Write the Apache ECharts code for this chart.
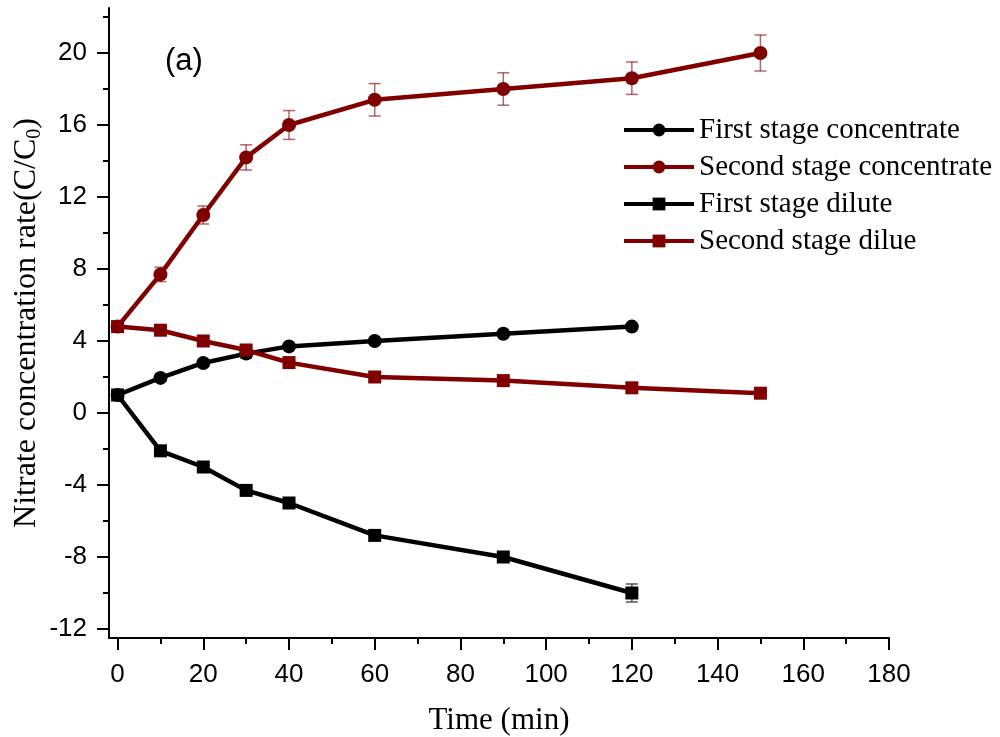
<!DOCTYPE html>
<html>
<head>
<meta charset="utf-8">
<script src="https://cdn.jsdelivr.net/npm/echarts@6/dist/echarts.min.js"></script>
<style>
  html, body { margin: 0; padding: 0; background: #fff; }
  #chart { width: 1000px; height: 737px; }
</style>
</head>
<body>
<div id="chart"></div>
<script>
// sampling times (min)
const timesFirst  = [0, 10, 20, 30, 40, 60, 90, 120];
const timesSecond = [0, 10, 20, 30, 40, 60, 90, 120, 150];

// C/C0 values
const firstConc     = [1.0, 1.95, 2.78, 3.3, 3.7, 4.0, 4.4, 4.8];
const firstConcErr  = [0, 0, 0, 0.25, 0, 0, 0, 0];
const secondConc    = [4.8, 7.7, 11.0, 14.2, 16.0, 17.4, 18.0, 18.6, 20.0];
const secondConcErr = [0, 0.4, 0.5, 0.7, 0.8, 0.9, 0.9, 0.9, 1.0];
const firstDil      = [1.0, -2.1, -3.0, -4.3, -5.0, -6.8, -8.0, -10.0];
const firstDilErr   = [0, 0, 0, 0, 0, 0, 0.2, 0.5];
const secondDil     = [4.8, 4.6, 4.0, 3.5, 2.8, 2.0, 1.8, 1.4, 1.1];
const secondDilErr  = [0, 0, 0, 0, 0, 0, 0, 0, 0];

// tick positions
const yMajor = [-12, -8, -4, 0, 4, 8, 12, 16, 20];
const yMinor = [-10, -6, -2, 2, 6, 10, 14, 18, 22];
const xMajor = [0, 20, 40, 60, 80, 100, 120, 140, 160, 180];
const xMinor = [10, 30, 50, 70, 90, 110, 130, 150, 170];

const RED = '#800000';
const BLACK = '#000000';

const pairs = (xs, ys) => xs.map((x, i) => [x, ys[i]]);
const errRows = (xs, ys, es) =>
  xs.map((x, i) => [x, ys[i] - es[i], ys[i] + es[i]]).filter((r, i) => es[i] > 0);

function errorBars(name, data, color) {
  return {
    name: name + ' err',
    type: 'custom',
    z: 1,
    silent: true,
    data: data,
    renderItem: (params, api) => {
      const lo = api.coord([api.value(0), api.value(1)]);
      const hi = api.coord([api.value(0), api.value(2)]);
      const w = 6;
      const style = { stroke: color, lineWidth: 1.5 };
      return {
        type: 'group',
        children: [
          { type: 'line', shape: { x1: lo[0], y1: lo[1], x2: hi[0], y2: hi[1] }, style },
          { type: 'line', shape: { x1: lo[0] - w, y1: lo[1], x2: lo[0] + w, y2: lo[1] }, style },
          { type: 'line', shape: { x1: hi[0] - w, y1: hi[1], x2: hi[0] + w, y2: hi[1] }, style }
        ]
      };
    }
  };
}

function lineSeries(name, data, color, symbol, size) {
  return {
    name: name,
    type: 'line',
    z: 3,
    data: data,
    symbol: symbol,
    symbolSize: size,
    showAllSymbol: true,
    lineStyle: { color: color, width: 4.5 },
    itemStyle: { color: color },
    emphasis: { disabled: true }
  };
}

const axisLineStyle = { show: true, onZero: false, lineStyle: { color: '#000', width: 2 } };
const numLabel = { fontFamily: 'Liberation Sans', fontSize: 26, color: '#000' };

const chart = echarts.init(document.getElementById('chart'));

chart.setOption({
  animation: false,
  backgroundColor: '#fff',
  grid: { left: 109, right: 111, top: 8, bottom: 99, outerBoundsMode: 'none' },
  graphic: [{
    type: 'text', left: 165, top: 46,
    style: { text: '(a)', fontFamily: 'Liberation Sans', fontSize: 31, fill: '#000' }
  }],
  legend: {
    orient: 'vertical',
    left: 617,
    top: 110,
    itemWidth: 70,
    itemHeight: 16,
    itemGap: 7,
    lineStyle: { width: 4 },
    textStyle: { fontFamily: 'Liberation Serif', fontSize: 29, color: '#000', lineHeight: 30 },
    data: ['First stage concentrate', 'Second stage concentrate', 'First stage dilute', 'Second stage dilue']
  },
  xAxis: [{
    type: 'value', min: -2, max: 180,
    name: 'Time (min)', nameLocation: 'middle', nameGap: 67, nameMoveOverlap: false,
    nameTextStyle: { fontFamily: 'Liberation Serif', fontSize: 31, color: '#000' },
    axisLine: axisLineStyle,
    axisTick: { show: true, length: 12, lineStyle: { color: '#000', width: 2 }, customValues: xMajor },
    axisLabel: Object.assign({ margin: 24, customValues: xMajor }, numLabel),
    splitLine: { show: false }
  }, {
    type: 'value', min: -2, max: 180, position: 'bottom',
    axisLine: { show: false, onZero: false },
    axisTick: { show: true, length: 6, lineStyle: { color: '#000', width: 2 }, customValues: xMinor },
    axisLabel: { show: false },
    splitLine: { show: false }
  }],
  yAxis: [{
    type: 'value', min: -12.5, max: 22.5,
    name: 'Nitrate concentration rate(C/C{sub|0})',
    nameLocation: 'middle', nameGap: 64, nameRotate: 90, nameMoveOverlap: false,
    nameTextStyle: {
      fontFamily: 'Liberation Serif', fontSize: 32, color: '#000',
      rich: { sub: { fontFamily: 'Liberation Serif', fontSize: 20, color: '#000', verticalAlign: 'bottom', padding: [16, 0, 0, 0] } }
    },
    axisLine: axisLineStyle,
    axisTick: { show: true, length: 12, lineStyle: { color: '#000', width: 2 }, customValues: yMajor },
    axisLabel: Object.assign({ margin: 22, customValues: yMajor }, numLabel),
    splitLine: { show: false }
  }, {
    type: 'value', min: -12.5, max: 22.5, position: 'left',
    axisLine: { show: false, onZero: false },
    axisTick: { show: true, length: 6, lineStyle: { color: '#000', width: 2 }, customValues: yMinor },
    axisLabel: { show: false },
    splitLine: { show: false }
  }],
  series: [
    errorBars('First stage concentrate', errRows(timesFirst, firstConc, firstConcErr), '#333'),
    errorBars('Second stage concentrate', errRows(timesSecond, secondConc, secondConcErr), 'rgba(128,0,0,0.6)'),
    errorBars('First stage dilute', errRows(timesFirst, firstDil, firstDilErr), '#555'),
    errorBars('Second stage dilue', errRows(timesSecond, secondDil, secondDilErr), 'rgba(128,0,0,0.6)'),
    lineSeries('First stage concentrate', pairs(timesFirst, firstConc), BLACK, 'circle', 14),
    lineSeries('Second stage concentrate', pairs(timesSecond, secondConc), RED, 'circle', 14),
    lineSeries('First stage dilute', pairs(timesFirst, firstDil), BLACK, 'rect', 13),
    lineSeries('Second stage dilue', pairs(timesSecond, secondDil), RED, 'rect', 13)
  ]
});

window.addEventListener('resize', () => chart.resize());
</script>
</body>
</html>
